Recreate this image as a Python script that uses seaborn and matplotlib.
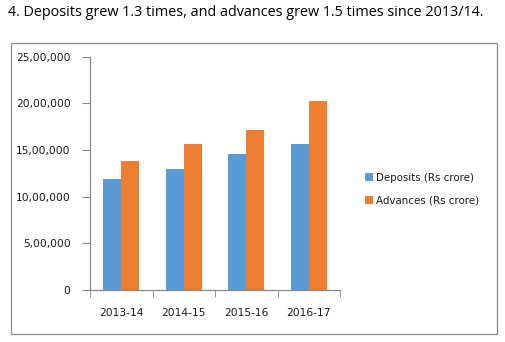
import matplotlib
matplotlib.use("Agg")
import matplotlib.pyplot as plt
from matplotlib.patches import Rectangle
import seaborn as sns
import pandas as pd

years = ["2013-14", "2014-15", "2015-16", "2016-17"]
deposits = [1193000, 1293000, 1457000, 1564000]
advances = [1382000, 1564000, 1714000, 2029000]
series_names = ["Deposits (Rs crore)", "Advances (Rs crore)"]
colors = ["#5B9BD5", "#ED7D31"]
yticks = [0, 500000, 1000000, 1500000, 2000000, 2500000]
ytick_labels = ["0", "5,00,000", "10,00,000", "15,00,000", "20,00,000", "25,00,000"]
title = "4. Deposits grew 1.3 times, and advances grew 1.5 times since 2013/14."

df = pd.DataFrame({
    "Year": years * 2,
    "Series": [series_names[0]] * len(years) + [series_names[1]] * len(years),
    "Value": deposits + advances,
})

sns.set_style("white")
plt.rcParams["font.family"] = ["DejaVu Sans"]

fig = plt.figure(figsize=(5.05, 3.42), dpi=100)
ax = fig.add_axes([90 / 505, 1 - 290 / 342, 250 / 505, (290 - 56.7) / 342])

sns.barplot(data=df, x="Year", y="Value", hue="Series", palette=colors,
            width=0.58, saturation=1, ax=ax, legend=True, linewidth=0, edgecolor="none")

ax.set_ylim(0, 2500000)
ax.set_xlim(-0.5, 3.5)
ax.set_yticks(yticks)
ax.set_yticklabels(ytick_labels, fontsize=7.7, color="#1a1a1a")
ax.set_xticks(range(len(years)))
ax.set_xticklabels(years, fontsize=7.7, color="#1a1a1a")
ax.set_xlabel("")
ax.set_ylabel("")

for s in ["top", "right"]:
    ax.spines[s].set_visible(False)
for s in ["left", "bottom"]:
    ax.spines[s].set_color("#888888")
    ax.spines[s].set_linewidth(0.9)

ax.tick_params(axis="y", which="major", direction="out", length=6, color="#888888", pad=8, left=True)
ax.tick_params(axis="x", which="major", length=0, pad=13)
ax.set_xticks([-0.5, 0.5, 1.5, 2.5, 3.5], minor=True)
ax.tick_params(axis="x", which="minor", direction="out", length=5, color="#888888", bottom=True)

leg = ax.legend(loc="center left", bbox_to_anchor=(361 / 505, 1 - 189 / 342),
                bbox_transform=fig.transFigure, frameon=False, fontsize=7.4,
                handlelength=0.8, handleheight=0.8, handletextpad=0.3,
                labelspacing=1.2, borderaxespad=0)
for t in leg.get_texts():
    t.set_color("#1a1a1a")

fig.patches.append(Rectangle((10.5 / 505, 1 - 334 / 342), (497 - 10.5) / 505, (334 - 42.5) / 342,
                             transform=fig.transFigure, fill=False, edgecolor="#8c8c8c", linewidth=0.9))

fig.text(8 / 505, 1 - 13 / 342, title, fontsize=10.4, family=["Open Sans", "DejaVu Sans"],
         va="center", ha="left", color="#000000")

fig.savefig("out.png", dpi=100)
